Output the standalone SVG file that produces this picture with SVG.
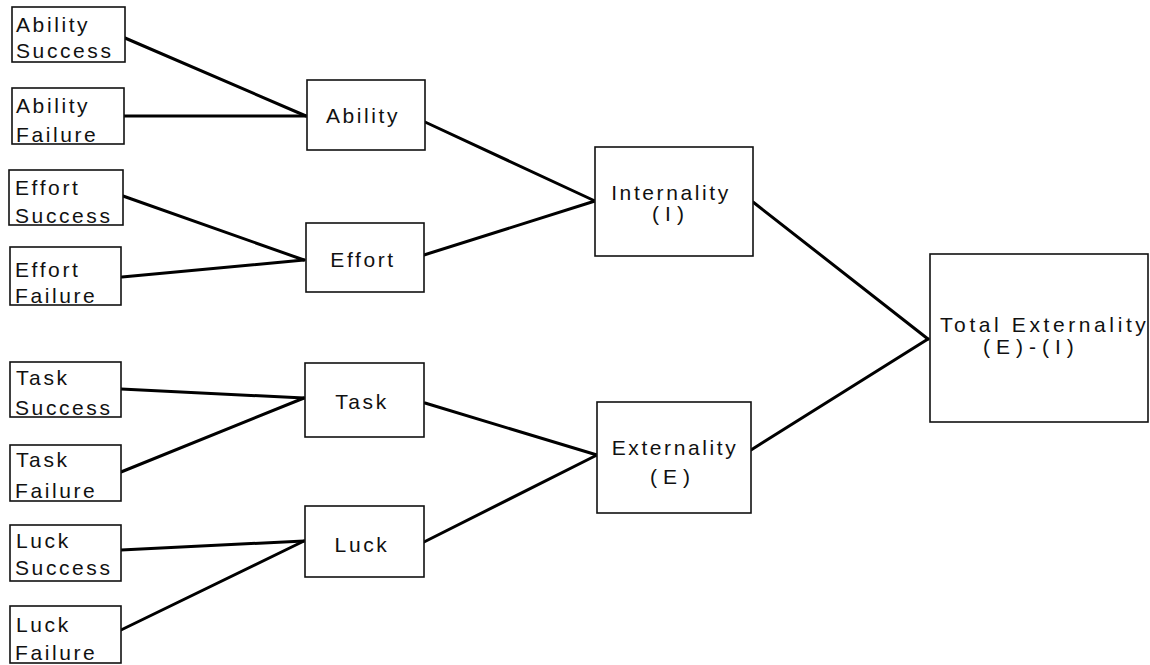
<svg xmlns="http://www.w3.org/2000/svg" width="1150" height="665" viewBox="0 0 1150 665">
<style>
.box{fill:#fff;stroke:#111;stroke-width:1.6}
.t{font-family:"Liberation Sans",Arial,sans-serif;font-size:21px;fill:#111;letter-spacing:2.6px}
.c{text-anchor:middle}
.w{letter-spacing:6px}
.ln{stroke:#000;stroke-width:3;fill:none;stroke-linecap:round}
</style>
<rect width="1150" height="665" fill="#fff"/>
<g id="connectors">
<line class="ln" x1="125" y1="38" x2="306" y2="116"/>
<line class="ln" x1="124" y1="116" x2="306" y2="116"/>
<line class="ln" x1="123" y1="196" x2="304" y2="260"/>
<line class="ln" x1="122" y1="277" x2="304" y2="260"/>
<line class="ln" x1="121" y1="389" x2="304" y2="398"/>
<line class="ln" x1="121" y1="472" x2="304" y2="398"/>
<line class="ln" x1="121" y1="550" x2="304" y2="541"/>
<line class="ln" x1="121" y1="630" x2="304" y2="541"/>
<line class="ln" x1="425" y1="122" x2="595" y2="201"/>
<line class="ln" x1="424" y1="255" x2="595" y2="201"/>
<line class="ln" x1="425" y1="403" x2="597" y2="455"/>
<line class="ln" x1="424" y1="542" x2="597" y2="455"/>
<line class="ln" x1="753" y1="202" x2="928" y2="339"/>
<line class="ln" x1="751" y1="450" x2="928" y2="339"/>
</g>
<g id="ability-success"><rect class="box" x="12" y="7" width="113" height="55"/><text class="t" x="16" y="32">Ability</text><text class="t" x="16" y="58">Success</text></g>
<g id="ability-failure"><rect class="box" x="12" y="88" width="112" height="56"/><text class="t" x="16" y="113">Ability</text><text class="t" x="16" y="142">Failure</text></g>
<g id="effort-success"><rect class="box" x="9" y="170" width="114" height="55"/><text class="t" x="15" y="195">Effort</text><text class="t" x="15" y="223">Success</text></g>
<g id="effort-failure"><rect class="box" x="10" y="247" width="111" height="58"/><text class="t" x="15" y="277">Effort</text><text class="t" x="15" y="303">Failure</text></g>
<g id="task-success"><rect class="box" x="10" y="362" width="111" height="55"/><text class="t" x="16" y="385">Task</text><text class="t" x="15" y="415">Success</text></g>
<g id="task-failure"><rect class="box" x="10" y="445" width="111" height="56"/><text class="t" x="16" y="467">Task</text><text class="t" x="15" y="498">Failure</text></g>
<g id="luck-success"><rect class="box" x="10" y="525" width="111" height="56"/><text class="t" x="16" y="548">Luck</text><text class="t" x="15" y="575">Success</text></g>
<g id="luck-failure"><rect class="box" x="10" y="606" width="111" height="57"/><text class="t" x="16" y="632">Luck</text><text class="t" x="15" y="660">Failure</text></g>
<g id="ability"><rect class="box" x="307" y="80" width="118" height="70"/><text class="t c" x="363" y="123">Ability</text></g>
<g id="effort"><rect class="box" x="306" y="223" width="118" height="69"/><text class="t c" x="363" y="267">Effort</text></g>
<g id="task"><rect class="box" x="305" y="363" width="119" height="74"/><text class="t c" x="362" y="409">Task</text></g>
<g id="luck"><rect class="box" x="305" y="506" width="119" height="71"/><text class="t c" x="362" y="552">Luck</text></g>
<g id="internality"><rect class="box" x="595" y="147" width="158" height="109"/><text class="t c" x="671" y="200">Internality</text><text class="t c w" x="671" y="221">(I)</text></g>
<g id="externality"><rect class="box" x="597" y="402" width="154" height="111"/><text class="t c" x="675" y="455">Externality</text><text class="t c w" x="673" y="484">(E)</text></g>
<g id="total-externality"><rect class="box" x="930" y="254" width="218" height="168"/><text class="t" x="940" y="332" style="letter-spacing:3.6px">Total Externality</text><text class="t w" x="983" y="354">(E)-(I)</text></g>
</svg>
